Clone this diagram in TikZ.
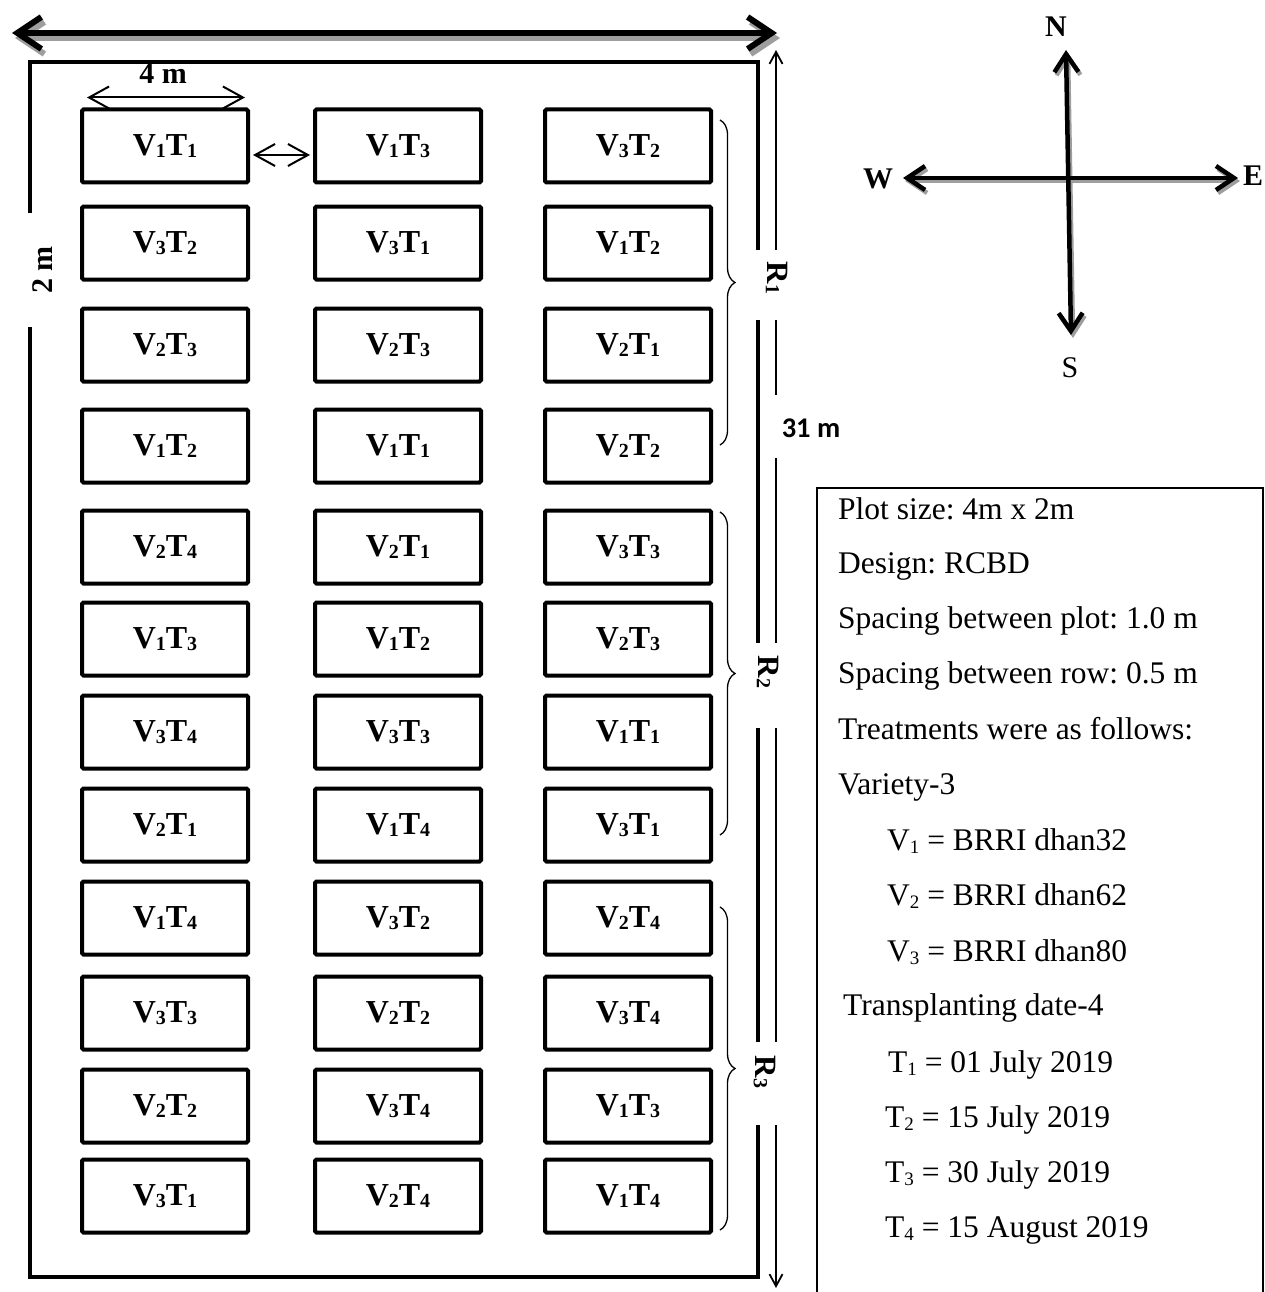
\documentclass[tikz,border=0pt]{standalone}
\usepackage{fontspec}
\setmainfont{Liberation Serif}
\newfontfamily\calib{Carlito}
\usetikzlibrary{arrows.meta,decorations.pathreplacing,calc}
\newcommand\lsub[1]{\raisebox{-2pt}{\fontsize{20}{20}\selectfont #1}}
\newcommand\pl[2]{V\lsub{#1}T\lsub{#2}}
\newcommand\rsub[1]{\raisebox{-3.5pt}{\fontsize{19}{19}\selectfont #1}}
\frenchspacing
\begin{document}
\begin{tikzpicture}[x=1pt,y=-1pt,
  plot/.style={draw,line width=4pt,rounded corners=1.5pt,minimum width=166pt,minimum height=73pt,inner sep=0pt,font=\fontsize{32}{32}\selectfont\bfseries},
  border/.style={line width=4pt},
  dimarrow/.style={line width=2pt,{Straight Barb[length=20pt,width=22pt]}-{Straight Barb[length=20pt,width=22pt]}},
  sidearrow/.style={line width=1.8pt},
  bigarrow/.style={line width=6pt,{Straight Barb[length=24pt,width=32pt]}-{Straight Barb[length=24pt,width=32pt]}},
  comparrow/.style={line width=4.5pt,{Straight Barb[length=18pt,width=24pt]}-{Straight Barb[length=18pt,width=24pt]}},
  shadowc/.style={draw=black!38},
  rlabel/.style={rotate=-90,font=\fontsize{31}{31}\selectfont\bfseries,inner sep=1pt},
  brace/.style={line width=1.3pt,decorate,decoration={brace,amplitude=15pt}},
  legend/.style={anchor=base west,inner sep=0pt,font=\fontsize{31.5}{31.5}\selectfont},
  dir/.style={font=\fontsize{30}{30}\selectfont\bfseries,inner sep=0pt}
]
\useasboundingbox (0,0) rectangle (1265,1292);

% top double arrow with shadow
\coordinate (tl) at (12,33);
\coordinate (tr) at (777,33);
\draw[bigarrow,shadowc] ($(tl)+(3,5)$) -- ($(tr)+(3,5)$);
\draw[bigarrow] (tl) -- (tr);

% field border
\draw[border] (30,213) -- (30,62) -- (758,62) -- (758,250);
\draw[border] (758,320) -- (758,643);
\draw[border] (758,728) -- (758,1042);
\draw[border] (758,1125) -- (758,1277) -- (30,1277) -- (30,327);

% plots
\foreach \r/\y/\la/\lb/\lc in {1/146/11/13/32, 2/243/32/31/12, 3/345/23/23/21, 4/446/12/11/22, 5/547/24/21/33, 6/639/13/12/23, 7/732/34/33/11, 8/825/21/14/31, 9/918/14/32/24, 10/1013/33/22/34, 11/1106/22/34/13, 12/1196/31/24/14}{
  \node[plot] (a\r) at (165,\y) {\expandafter\pl\la};
  \node[plot] (b\r) at (398,\y) {\expandafter\pl\lb};
  \node[plot] (c\r) at (628,\y) {\expandafter\pl\lc};
}

% 4 m dimension
\node[font=\fontsize{30}{30}\selectfont\bfseries,inner sep=0pt] (fourm) at (163,74) {4 m};
\draw[dimarrow] ($(a1.north west)+(7,-10)$) -- ($(a1.north east)+(-5,-10)$);
% spacing between plots
\draw[dimarrow] ($(a1.east)+(3,9)$) -- ($(b1.west)+(-3,9)$);

% 2 m label
\node[rotate=90,font=\fontsize{30}{30}\selectfont\bfseries,inner sep=0pt] (twom) at (43,270) {2 m};

% 31 m side arrow
\draw[sidearrow,-{Straight Barb[length=12pt,width=13pt]}] (776,250) -- (776,50);
\draw[sidearrow] (776,320) -- (776,395);
\draw[sidearrow] (776,458) -- (776,643);
\draw[sidearrow] (776,728) -- (776,1042);
\draw[sidearrow,-{Straight Barb[length=12pt,width=13pt]}] (776,1125) -- (776,1288);
\node[font=\fontsize{28.5}{28.5}\selectfont\calib\bfseries,inner sep=0pt] (thirtyone) at (811,428) {31 m};

% replication braces and labels
\draw[brace] (720,120) -- (720,445);
\draw[brace] (720,512) -- (720,835);
\draw[brace] (720,907) -- (720,1230);
\node[rlabel] (R1) at (777,278) {R\lsub{1}};
\node[rlabel] (R2) at (768,672) {R\lsub{2}};
\node[rlabel] (R3) at (765,1072) {R\lsub{3}};

% compass
\coordinate (cn) at (1066,50);
\coordinate (cs) at (1071,335);
\coordinate (cw) at (903,178);
\coordinate (ce) at (1238,178);
\draw[comparrow,shadowc] ($(cw)+(2,3)$) -- ($(ce)+(2,3)$);
\draw[comparrow,shadowc] ($(cs)+(2,3)$) -- ($(cn)+(2,3)$);
\draw[comparrow] (cw) -- (ce);
\draw[comparrow] (cs) -- (cn);
\node[dir] (N) at (1056,27) {N};
\node[dir,font=\fontsize{30}{30}\selectfont] (S) at (1070,368) {S};
\node[dir] (W) at (878,179) {W};
\node[dir] (E) at (1253,176) {E};

% legend box
\draw[line width=1.3pt] (817,1300) -- (817,488) -- (1263,488) -- (1263,1300);
\node[legend] (l1) at (838,519) {Plot size: 4m x 2m};
\node[legend] (l2) at (838,573) {Design: RCBD};
\node[legend] (l3) at (838,628) {Spacing between plot: 1.0 m};
\node[legend] (l4) at (838,683) {Spacing between row: 0.5 m};
\node[legend] (l5) at (838,739) {Treatments were as follows:};
\node[legend] (l6) at (838,794) {Variety-3};
\node[legend] (l7) at (887,850) {V\rsub{1} = BRRI dhan32};
\node[legend] (l8) at (887,905) {V\rsub{2} = BRRI dhan62};
\node[legend] (l9) at (887,961) {V\rsub{3} = BRRI dhan80};
\node[legend] (l10) at (843,1015) {Transplanting date-4};
\node[legend] (l11) at (888,1072) {T\rsub{1} = 01 July 2019};
\node[legend] (l12) at (885,1127) {T\rsub{2} = 15 July 2019};
\node[legend] (l13) at (885,1182) {T\rsub{3} = 30 July 2019};
\node[legend] (l14) at (885,1237) {T\rsub{4} = 15 August 2019};
\end{tikzpicture}
\end{document}
